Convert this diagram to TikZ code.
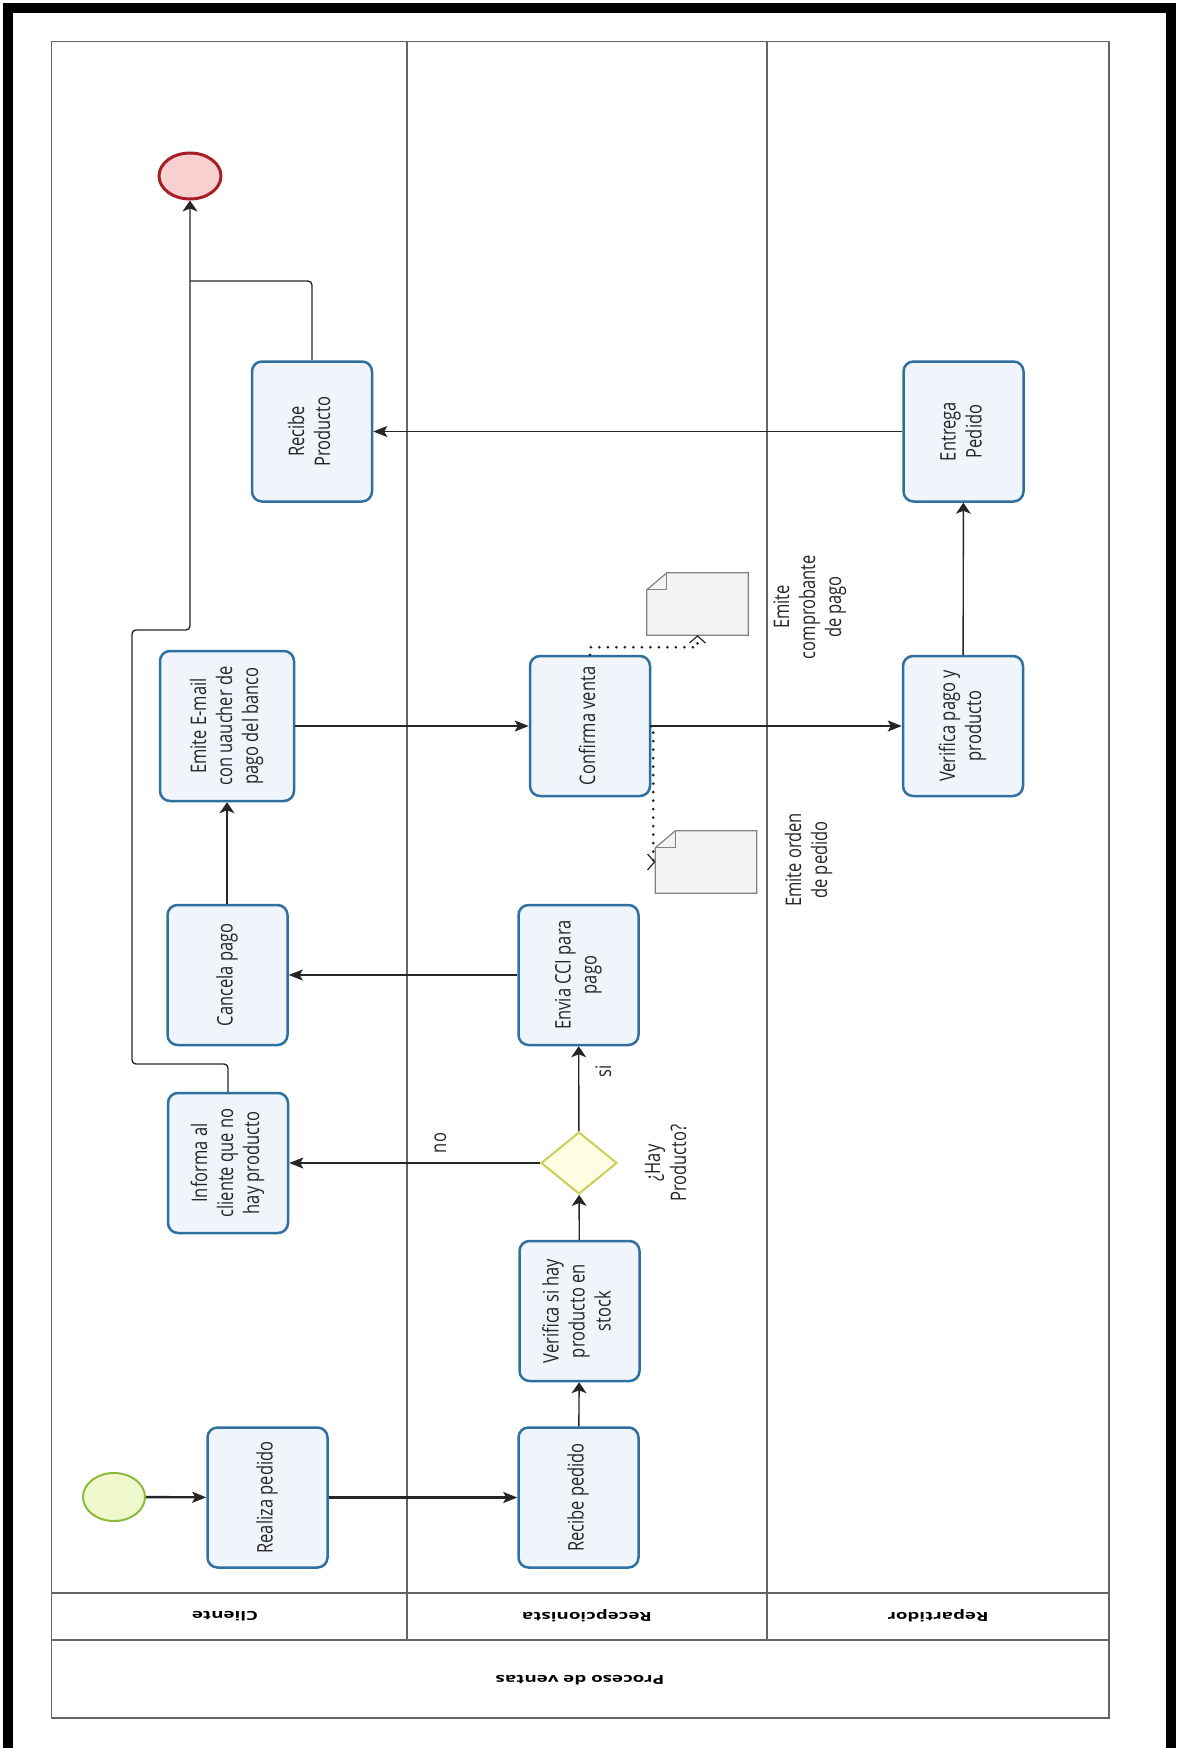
\documentclass[tikz,border=0pt]{standalone}
\usepackage{fontspec}
\setsansfont{Open Sans}
\usepackage{graphicx}
\usetikzlibrary{shapes.geometric,arrows.meta,calc}
\definecolor{taskline}{RGB}{48,112,160}
\definecolor{taskfill}{RGB}{240,245,252}
\definecolor{lanegray}{RGB}{100,100,100}
\definecolor{startline}{RGB}{140,185,60}
\definecolor{startfill}{RGB}{240,248,205}
\definecolor{endline}{RGB}{165,30,40}
\definecolor{endfill}{RGB}{248,208,208}
\definecolor{gwline}{RGB}{205,205,90}
\definecolor{gwfill}{RGB}{253,253,225}
\definecolor{docline}{RGB}{130,130,130}
\definecolor{docfill}{RGB}{243,243,243}
\newcommand{\rtext}[1]{\scalebox{1}[1.3]{\begin{tabular}{@{}c@{}}#1\end{tabular}}}
\newcommand{\htext}[1]{\scalebox{1.5}[1]{#1}}
\begin{document}
\begin{tikzpicture}[x=1pt,y=-1pt,
  task/.style={draw=taskline, fill=taskfill, line width=2.5pt, rounded corners=10pt,
    minimum width=120pt, minimum height=140pt, inner sep=0pt},
  ttext/.style={rotate=90, font=\sffamily\fontsize{16.5}{20}\selectfont, text=black!85, inner sep=0pt},
  lanelabel/.style={rotate=180, font=\sffamily\bfseries\fontsize{12.5}{14}\selectfont, inner sep=0pt},
  lane/.style={draw=lanegray, line width=1.5pt},
  hflow/.style={draw=black!85, line width=1.4pt, -{Stealth[length=14pt,width=11pt,inset=3pt]}},
  vflow/.style={draw=black!85, line width=1.4pt, -{Stealth[length=11pt,width=15pt,inset=3pt]}},
  plainflow/.style={draw=black!85, line width=1.4pt},
  assoc/.style={draw=black!85, line width=3pt, dash pattern=on 0pt off 8.5pt, line cap=round,
    -{Straight Barb[length=7pt,width=16pt,line width=1.2pt]}},
  docbox/.style={minimum width=101pt, minimum height=62pt, inner sep=0pt},
  docshape/.style={draw=docline, fill=docfill, line width=1.2pt}
]
\useasboundingbox (0,0) rectangle (1182,1748);
\fill[white] (0,0) rectangle (1182,1748);
% outer black frame
\draw[line width=10pt, line cap=butt] (8,1748) -- (8,8) -- (1171,8) -- (1171,1748);

% pool and lanes
\draw[lane] (51.5,41.5) rectangle (1109,1718);
\draw[lane] (51.5,1593) -- (1109,1593);
\draw[lane] (51.5,1640) -- (1109,1640);
\draw[lane] (407,41.5) -- (407,1640);
\draw[lane] (767,41.5) -- (767,1640);
\node[lanelabel] (lcli) at (225,1616) {\htext{Cliente}};
\node[lanelabel] (lrec) at (587,1616) {\htext{Recepcionista}};
\node[lanelabel] (lrep) at (938,1616) {\htext{Repartidor}};
\node[lanelabel] (lpool) at (580,1680) {\htext{Proceso de ventas}};

% events and gateway
\node[ellipse, draw=startline, fill=startfill, line width=2pt, minimum width=62pt, minimum height=48pt, inner sep=0pt] (start) at (114,1497) {};
\node[ellipse, draw=endline, fill=endfill, line width=3pt, minimum width=62pt, minimum height=46pt, inner sep=0pt] (endev) at (190,176) {};
\node[diamond, draw=gwline, fill=gwfill, line width=2pt, minimum width=76pt, minimum height=62pt, inner sep=0pt] (gw) at (579,1163) {};

% tasks
\node[task] (realiza) at (267.5,1497.5) {};
\node[task] (recped) at (578.5,1497.5) {};
\node[task] (verstock) at (579.5,1311) {};
\node[task] (informa) at (228,1163) {};
\node[task] (envia) at (578.5,975) {};
\node[task] (cancela) at (227.5,975) {};
\node[task, minimum width=134pt, minimum height=150pt] (emite) at (227,726) {};
\node[task] (confirma) at (590,726) {};
\node[task] (verpago) at (963,726) {};
\node[task] (entrega) at (963.5,431.5) {};
\node[task] (recprod) at (312,431.5) {};

\node[ttext] (trealiza) at (realiza) {\rtext{Realiza pedido}};
\node[ttext] (trecped) at (recped) {\rtext{Recibe pedido}};
\node[ttext] (tverstock) at (verstock) {\rtext{Verifica si hay\\producto en\\stock}};
\node[ttext] (tinforma) at (informa) {\rtext{Informa al\\cliente que no\\hay producto}};
\node[ttext] (tenvia) at (envia) {\rtext{Envia CCI para\\pago}};
\node[ttext] (tcancela) at (cancela) {\rtext{Cancela pago}};
\node[ttext] (temite) at (emite) {\rtext{Emite E-mail\\con uaucher de\\pago del banco}};
\node[ttext] (tconfirma) at (confirma) {\rtext{Confirma venta}};
\node[ttext] (tverpago) at (verpago) {\rtext{Verifica pago y\\producto}};
\node[ttext] (tentrega) at (entrega) {\rtext{Entrega\\Pedido}};
\node[ttext] (trecprod) at (recprod) {\rtext{Recibe\\Producto}};

% data objects
\node[docbox] (docA) at (697.5,604) {};
\node[docbox] (docB) at (706,862) {};
\foreach \d in {docA,docB}{
  \draw[docshape] (\d.south west) -- (\d.south east) -- (\d.north east)
    -- ($(\d.north west)+(20,0)$) -- ($(\d.north west)+(0,17)$) -- cycle;
  \draw[docshape, fill=none] ($(\d.north west)+(20,0)$) -- ($(\d.north west)+(20,17)$) -- ($(\d.north west)+(0,17)$);
}
\node[ttext] (ldocA) at (810,607) {\rtext{Emite\\comprobante\\de pago}};
\node[ttext] (ldocB) at (809,860) {\rtext{Emite orden\\de pedido}};

% gateway labels
\node[ttext] (lgw) at (668,1163) {\rtext{¿Hay\\Producto?}};
\node[ttext] (lno) at (441,1143) {\rtext{no}};
\node[ttext] (lsi) at (606,1071) {\rtext{si}};

% sequence flows
\draw[hflow, line width=2.4pt] (start) -- (realiza);
\draw[hflow, line width=2.4pt] (realiza) -- (recped);
\draw[vflow] (recped) -- (verstock);
\draw[vflow] (verstock) -- (gw);
\draw[hflow] (gw) -- (informa);
\draw[vflow] (gw) -- (envia);
\draw[hflow] (envia) -- (cancela);
\draw[vflow] (cancela.north -| emite.south) -- (emite.south);
\draw[hflow] (emite) -- (confirma);
\draw[hflow] (confirma) -- (verpago);
\draw[vflow] (verpago) -- (entrega);
\draw[hflow] (entrega) -- (recprod);

\coordinate (jn) at (190,281);
\coordinate (c1) at (132,1064);
\coordinate (c2) at (190,630);
\draw[plainflow, rounded corners=4pt] (recprod.north) |- (jn);
\draw[vflow, rounded corners=4pt] (informa.north) |- (c1) |- (c2) -- (endev.south);

% associations
\draw[assoc] (confirma.north) |- ($(docA.south)+(0,12)$) -- (docA.south);
\draw[assoc] (confirma.east) -- ++(2,0) |- (docB.west);
\end{tikzpicture}
\end{document}
